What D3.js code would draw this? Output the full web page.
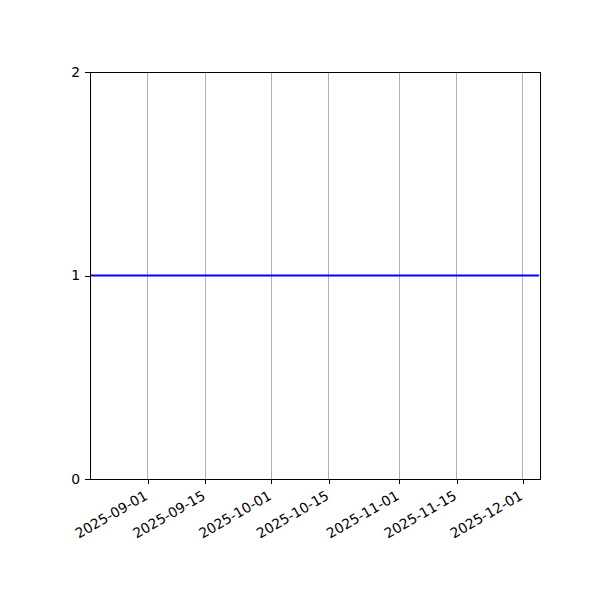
<!DOCTYPE html>
<html><head><meta charset="utf-8">
<script src="https://cdn.jsdelivr.net/npm/d3@7"></script>
<style>body{margin:0;background:#fff}svg{display:block}text{font-family:"DejaVu Sans",sans-serif}</style>
</head><body><div id="c"></div>
<script>
const dates = ["2025-08-18", "2025-12-05"];
const values = [1, 1];
const xTickLabels = ["2025-09-01","2025-09-15","2025-10-01","2025-10-15","2025-11-01","2025-11-15","2025-12-01"];
const yTickValues = [0, 1, 2];

const W = 600, H = 600;
const m = {left: 90, right: 60, top: 72, bottom: 121};
const parse = d3.utcParse("%Y-%m-%d");
const svg = d3.select("#c").append("svg").attr("width", W).attr("height", H);

const x = d3.scaleUtc()
  .domain([parse("2025-08-18"), d3.utcHour.offset(parse("2025-12-05"), 5)])
  .range([m.left, W - m.right]);
const y = d3.scaleLinear().domain([0, 2]).range([H - m.bottom, m.top]);
const fs = 13.9;

// grid
svg.append("g").selectAll("line").data(xTickLabels).join("line")
  .attr("x1", d => x(parse(d))).attr("x2", d => x(parse(d)))
  .attr("y1", y(0)).attr("y2", y(2))
  .attr("stroke", "#b0b0b0").attr("stroke-width", 1).attr("shape-rendering", "crispEdges");

// line
const data = dates.map((d, i) => ({d: parse(d), v: values[i]}));
svg.append("path").datum(data)
  .attr("d", d3.line().x(p => x(p.d)).y(p => y(p.v)))
  .attr("fill", "none").attr("stroke", "#0000ff").attr("stroke-width", 2.1);

// frame
svg.append("rect").attr("x", m.left).attr("y", m.top)
  .attr("width", W - m.left - m.right).attr("height", H - m.top - m.bottom)
  .attr("fill", "none").attr("stroke", "#000").attr("stroke-width", 1).attr("shape-rendering", "crispEdges");

// x axis
const xa = svg.append("g").attr("transform", `translate(0,${y(0)})`)
  .call(d3.axisBottom(x).tickValues(xTickLabels.map(parse)).tickSizeInner(4.9).tickSizeOuter(0).tickPadding(4.9).tickFormat(d3.utcFormat("%Y-%m-%d")));
xa.select(".domain").remove();
xa.selectAll(".tick line").attr("stroke", "#000").attr("stroke-width", 1).attr("shape-rendering", "crispEdges");
xa.selectAll(".tick text")
  .attr("font-size", fs).attr("fill", "#000")
  .attr("text-anchor", "end").attr("dy", null)
  .attr("x", 0.5).attr("y", 19.5)
  .attr("transform", "rotate(-30,0.5,19.5)");

// y axis
const ya = svg.append("g").attr("transform", `translate(${m.left},0)`)
  .call(d3.axisLeft(y).tickValues(yTickValues).tickSizeInner(4.9).tickSizeOuter(0).tickPadding(4.9).tickFormat(d3.format("d")));
ya.select(".domain").remove();
ya.selectAll(".tick line").attr("stroke", "#000").attr("stroke-width", 1).attr("shape-rendering", "crispEdges");
ya.selectAll(".tick text").attr("font-size", fs).attr("fill", "#000");
</script></body></html>
